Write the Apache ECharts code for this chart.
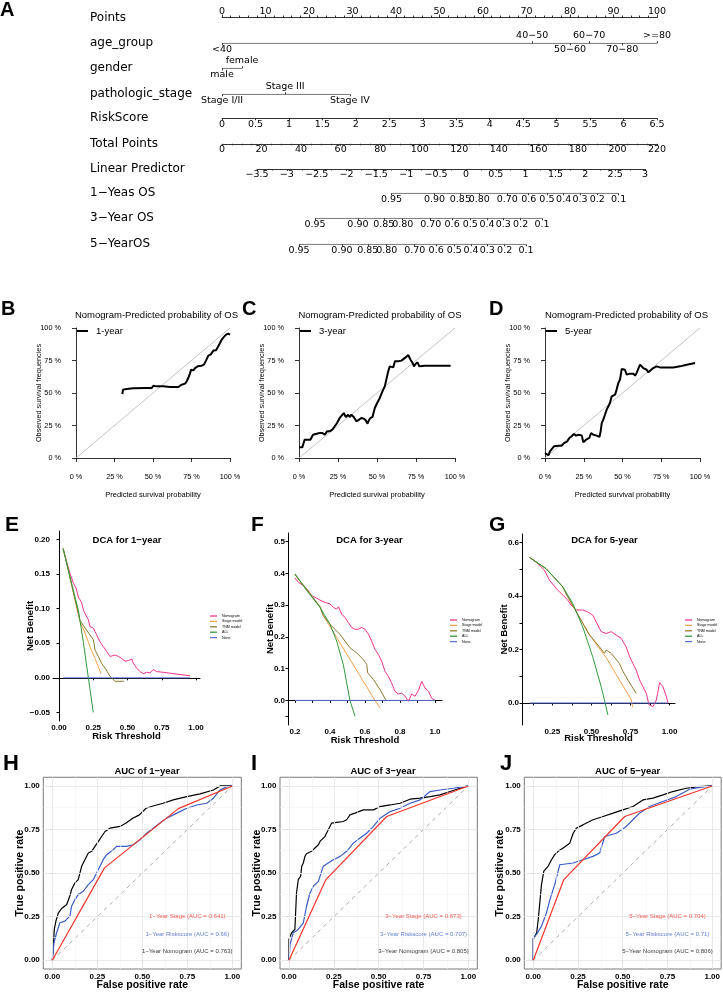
<!DOCTYPE html>
<html><head><meta charset="utf-8">
<script src="https://cdn.jsdelivr.net/npm/echarts@6/dist/echarts.min.js"></script>
<style>html,body{margin:0;padding:0;background:#fff}#c{width:723px;height:992px}</style>
</head><body><div id="c"></div>
<script>
// ================= DATA =================
// ---- Panel A: nomogram ----
const nomRowNames = ['Points','age_group','gender','pathologic_stage','RiskScore','Total Points','Linear Predictor','1−Yeas OS','3−Year OS','5−YearOS'];
const pointsRange = [0, 100];
const ageLevels = ['<40','40−50','50−60','60−70','70−80','>=80'];
const agePoints = [0, 71.3, 80.0, 84.4, 92.0, 100];
const genderLevels = ['male','female'];
const genderPoints = [0, 4.6];
const stageLevels = ['Stage I/II','Stage III','Stage IV'];
const stagePoints = [0, 14.5, 29.4];
const riskScoreRange = [0, 6.5];
const totalPointsRange = [0, 220];
const linearPredictorRange = [-3.5, 3];
const osTickLabels = ['0.95','0.90','0.85','0.80','0.70','0.6','0.5','0.4','0.3','0.2','0.1'];
const os1yLP = [-1.246,-0.526,-0.093,0.224,0.693,1.052,1.357,1.637,1.910,2.200,2.558];
const os3yLP = [-2.529,-1.809,-1.376,-1.059,-0.590,-0.231,0.074,0.354,0.627,0.917,1.275];
const os5yLP = [-2.797,-2.077,-1.644,-1.327,-0.858,-0.499,-0.194,0.086,0.359,0.649,1.007];

// ---- Panels B-D: calibration ----
const calTicks = [0, 0.25, 0.5, 0.75, 1];
const calDiagonal = [[0,0],[1,1]];
const cal1Year = [[0.301,0.492],[0.305,0.526],[0.329,0.531],[0.372,0.536],[0.459,0.538],[0.491,0.538],[0.502,0.556],[0.524,0.551],[0.567,0.551],[0.610,0.546],[0.665,0.546],[0.686,0.564],[0.708,0.572],[0.719,0.590],[0.729,0.615],[0.740,0.649],[0.747,0.679],[0.762,0.674],[0.773,0.692],[0.784,0.679],[0.790,0.705],[0.801,0.692],[0.816,0.710],[0.831,0.718],[0.844,0.749],[0.859,0.787],[0.874,0.795],[0.892,0.826],[0.909,0.828],[0.924,0.859],[0.935,0.885],[0.946,0.910],[0.961,0.931],[0.974,0.949],[0.989,0.956],[1.000,0.949]];
const cal3Year = [[0.0,0.082],[0.021,0.082],[0.036,0.141],[0.058,0.141],[0.073,0.141],[0.090,0.179],[0.107,0.185],[0.133,0.192],[0.150,0.192],[0.165,0.179],[0.180,0.205],[0.197,0.205],[0.214,0.218],[0.229,0.244],[0.244,0.269],[0.261,0.308],[0.272,0.321],[0.287,0.346],[0.300,0.315],[0.315,0.333],[0.325,0.315],[0.336,0.333],[0.351,0.315],[0.368,0.282],[0.385,0.295],[0.400,0.308],[0.415,0.303],[0.428,0.290],[0.439,0.264],[0.448,0.290],[0.458,0.308],[0.471,0.315],[0.486,0.385],[0.501,0.423],[0.518,0.462],[0.535,0.513],[0.550,0.551],[0.572,0.667],[0.582,0.705],[0.593,0.718],[0.604,0.697],[0.615,0.744],[0.625,0.749],[0.636,0.744],[0.647,0.736],[0.657,0.749],[0.668,0.762],[0.683,0.774],[0.700,0.792],[0.715,0.756],[0.728,0.731],[0.737,0.705],[0.747,0.723],[0.760,0.736],[0.771,0.705],[0.782,0.710],[0.807,0.710],[0.904,0.710],[0.972,0.710]];
const cal5Year = [[0.0,0.038],[0.006,0.026],[0.022,0.021],[0.032,0.051],[0.043,0.064],[0.058,0.090],[0.086,0.095],[0.108,0.095],[0.123,0.115],[0.144,0.128],[0.157,0.154],[0.172,0.167],[0.187,0.185],[0.200,0.172],[0.215,0.179],[0.237,0.174],[0.247,0.121],[0.265,0.141],[0.273,0.154],[0.286,0.154],[0.297,0.192],[0.312,0.179],[0.323,0.192],[0.333,0.172],[0.351,0.162],[0.359,0.205],[0.366,0.269],[0.376,0.295],[0.387,0.333],[0.398,0.372],[0.409,0.385],[0.419,0.423],[0.430,0.474],[0.452,0.487],[0.462,0.526],[0.473,0.577],[0.484,0.603],[0.495,0.685],[0.516,0.679],[0.527,0.641],[0.538,0.628],[0.548,0.649],[0.559,0.641],[0.570,0.649],[0.581,0.633],[0.591,0.654],[0.602,0.654],[0.613,0.718],[0.624,0.705],[0.634,0.692],[0.645,0.700],[0.656,0.679],[0.667,0.659],[0.677,0.674],[0.699,0.692],[0.720,0.705],[0.742,0.697],[0.828,0.697],[0.871,0.705],[0.914,0.718],[0.968,0.731]];

// ---- Panels E-G: decision curves ----
const dcaNames = ['Nomogram','Stage model','TNM model','ALL','None'];
const dca1Nomogram = [[0.03,0.187],[0.056,0.168],[0.080,0.151],[0.105,0.137],[0.124,0.130],[0.141,0.117],[0.153,0.113],[0.166,0.108],[0.178,0.098],[0.190,0.093],[0.202,0.091],[0.214,0.084],[0.226,0.074],[0.239,0.075],[0.251,0.072],[0.263,0.067],[0.275,0.062],[0.287,0.060],[0.299,0.052],[0.311,0.050],[0.324,0.045],[0.336,0.043],[0.348,0.038],[0.360,0.036],[0.372,0.031],[0.392,0.032],[0.409,0.033],[0.433,0.031],[0.457,0.028],[0.482,0.024],[0.506,0.025],[0.531,0.027],[0.543,0.021],[0.567,0.014],[0.591,0.009],[0.616,0.006],[0.640,0.008],[0.664,0.007],[0.688,0.012],[0.713,0.009],[0.761,0.008],[0.834,0.006],[0.956,0.003]];
const dca1Stage = [[0.03,0.187],[0.056,0.166],[0.117,0.113],[0.153,0.081],[0.190,0.065],[0.226,0.045],[0.263,0.028],[0.307,0.006]];
const dca1TNM = [[0.03,0.187],[0.056,0.166],[0.117,0.113],[0.153,0.083],[0.190,0.072],[0.226,0.062],[0.251,0.055],[0.263,0.040],[0.287,0.031],[0.311,0.021],[0.343,0.012],[0.372,0.002],[0.409,-0.005],[0.474,-0.005]];
const dca1All = [[0.03,0.187],[0.080,0.146],[0.141,0.098],[0.178,0.051],[0.214,0.0],[0.25,-0.05]];
const dca1None = [[0.03,0],[0.956,0]];

const dca3Nomogram = [[0.200,0.386],[0.219,0.372],[0.248,0.362],[0.276,0.346],[0.295,0.330],[0.314,0.325],[0.343,0.316],[0.371,0.309],[0.400,0.304],[0.419,0.293],[0.438,0.288],[0.448,0.295],[0.467,0.272],[0.486,0.261],[0.505,0.245],[0.524,0.230],[0.543,0.224],[0.562,0.224],[0.571,0.219],[0.581,0.230],[0.600,0.224],[0.619,0.209],[0.638,0.187],[0.657,0.161],[0.676,0.145],[0.695,0.124],[0.714,0.092],[0.733,0.076],[0.752,0.055],[0.771,0.029],[0.790,0.020],[0.810,0.023],[0.829,0.013],[0.848,-0.003],[0.867,0.020],[0.886,0.013],[0.905,0.031],[0.924,0.060],[0.943,0.039],[0.962,0.029],[0.981,0.007],[1.0,0.0]];
const dca3Stage = [[0.2,0.396],[0.267,0.350],[0.343,0.295],[0.362,0.267],[0.657,0.0],[0.686,-0.024]];
const dca3TNM = [[0.2,0.396],[0.267,0.350],[0.343,0.295],[0.362,0.267],[0.400,0.240],[0.457,0.208],[0.514,0.166],[0.552,0.150],[0.590,0.129],[0.610,0.113],[0.615,0.087],[0.648,0.066],[0.686,0.034],[0.720,0.0]];
const dca3All = [[0.2,0.399],[0.267,0.346],[0.343,0.293],[0.400,0.240],[0.438,0.187],[0.476,0.113],[0.514,0.0],[0.543,-0.05]];
const dca3None = [[0.2,0],[1.0,0]];

const dca5Nomogram = [[0.103,0.545],[0.156,0.522],[0.199,0.497],[0.231,0.460],[0.274,0.429],[0.316,0.404],[0.348,0.385],[0.370,0.366],[0.402,0.348],[0.444,0.348],[0.476,0.341],[0.508,0.329],[0.530,0.304],[0.562,0.267],[0.594,0.260],[0.626,0.267],[0.658,0.254],[0.690,0.242],[0.722,0.210],[0.744,0.173],[0.765,0.148],[0.786,0.123],[0.808,0.086],[0.829,0.061],[0.851,0.036],[0.868,-0.007],[0.893,-0.014],[0.915,0.011],[0.936,0.076],[0.957,0.061],[0.979,0.024],[0.99,0.0]];
const dca5Stage = [[0.103,0.545],[0.209,0.503],[0.316,0.435],[0.342,0.404],[0.487,0.255],[0.594,0.170],[0.679,0.086],[0.754,0.014],[0.763,-0.015]];
const dca5TNM = [[0.103,0.545],[0.209,0.503],[0.316,0.435],[0.342,0.404],[0.487,0.255],[0.551,0.210],[0.583,0.186],[0.594,0.198],[0.626,0.186],[0.679,0.148],[0.697,0.123],[0.733,0.086],[0.786,0.036]];
const dca5All = [[0.103,0.545],[0.209,0.503],[0.316,0.435],[0.380,0.373],[0.444,0.285],[0.508,0.173],[0.562,0.061],[0.583,0.011],[0.605,-0.045]];
const dca5None = [[0.103,0],[0.99,0]];

// ---- Panels H-J: ROC ----
const rocTicks = [0, 0.25, 0.5, 0.75, 1];
const rocMinor = [0.125, 0.375, 0.625, 0.875];
const rocDiagonal = [[0,0],[1,1]];
const roc1Nomogram = [[0,0],[0.006,0.08],[0.011,0.177],[0.02,0.225],[0.033,0.27],[0.052,0.297],[0.08,0.32],[0.098,0.37],[0.107,0.406],[0.126,0.444],[0.144,0.463],[0.163,0.539],[0.181,0.577],[0.2,0.615],[0.219,0.625],[0.237,0.653],[0.256,0.682],[0.274,0.71],[0.293,0.739],[0.32,0.758],[0.376,0.768],[0.41,0.787],[0.447,0.815],[0.484,0.834],[0.521,0.872],[0.559,0.885],[0.616,0.901],[0.672,0.92],[0.747,0.939],[0.821,0.955],[0.895,0.977],[0.932,1.0],[1,1]];
const roc1Riskscore = [[0,0],[0.009,0.10],[0.024,0.158],[0.042,0.215],[0.07,0.225],[0.098,0.253],[0.107,0.31],[0.126,0.348],[0.144,0.377],[0.172,0.396],[0.2,0.434],[0.228,0.463],[0.246,0.501],[0.265,0.539],[0.283,0.577],[0.302,0.606],[0.339,0.634],[0.357,0.653],[0.413,0.653],[0.45,0.663],[0.487,0.691],[0.524,0.729],[0.561,0.758],[0.598,0.787],[0.635,0.815],[0.672,0.834],[0.709,0.853],[0.747,0.872],[0.803,0.891],[0.858,0.901],[0.895,0.93],[0.932,0.977],[0.97,0.996],[1,1]];
const roc1Stage = [[0,0],[0.29,0.53],[0.70,0.87],[1,1]];
const roc3Nomogram = [[0,0],[0,0.12],[0.015,0.158],[0.033,0.177],[0.042,0.386],[0.052,0.463],[0.065,0.482],[0.071,0.539],[0.080,0.558],[0.089,0.596],[0.098,0.611],[0.126,0.625],[0.145,0.644],[0.164,0.663],[0.173,0.682],[0.201,0.711],[0.219,0.749],[0.238,0.787],[0.266,0.791],[0.303,0.796],[0.322,0.806],[0.34,0.834],[0.368,0.844],[0.415,0.863],[0.471,0.863],[0.508,0.882],[0.564,0.891],[0.619,0.901],[0.675,0.924],[0.731,0.93],[0.787,0.939],[0.842,0.949],[0.898,0.968],[0.954,0.987],[1,1]];
const roc3Riskscore = [[0,0],[0.006,0.091],[0.024,0.158],[0.052,0.177],[0.08,0.215],[0.098,0.31],[0.117,0.386],[0.136,0.425],[0.164,0.453],[0.191,0.539],[0.219,0.558],[0.247,0.577],[0.285,0.596],[0.322,0.625],[0.359,0.672],[0.396,0.701],[0.433,0.729],[0.471,0.768],[0.508,0.815],[0.564,0.853],[0.619,0.872],[0.675,0.901],[0.731,0.92],[0.787,0.968],[0.842,0.977],[0.917,0.987],[0.973,0.996],[1,1]];
const roc3Stage = [[0,0],[0.206,0.463],[0.545,0.825],[1,1]];
const roc5Nomogram = [[0,0],[0,0.12],[0.019,0.158],[0.028,0.234],[0.046,0.434],[0.059,0.511],[0.083,0.539],[0.102,0.577],[0.12,0.606],[0.139,0.625],[0.167,0.644],[0.204,0.672],[0.223,0.729],[0.241,0.758],[0.278,0.777],[0.334,0.806],[0.39,0.825],[0.446,0.844],[0.501,0.863],[0.557,0.882],[0.613,0.92],[0.669,0.93],[0.725,0.949],[0.78,0.968],[0.855,0.987],[0.929,0.996],[1,1]];
const roc5Riskscore = [[0,0],[0,0.13],[0.019,0.149],[0.046,0.196],[0.074,0.272],[0.093,0.348],[0.12,0.434],[0.148,0.548],[0.223,0.558],[0.278,0.577],[0.334,0.596],[0.371,0.615],[0.399,0.71],[0.464,0.729],[0.52,0.768],[0.557,0.806],[0.594,0.844],[0.65,0.882],[0.725,0.911],[0.799,0.939],[0.873,0.981],[0.929,0.992],[1,1]];
const roc5Stage = [[0,0],[0.171,0.463],[0.511,0.825],[1,1]];
const roc1Labels = ['1−Year Stage (AUC = 0.641)','1−Year Riskscore (AUC = 0.66)','1−Year Nomogram (AUC = 0.763)'];
const roc3Labels = ['3−Year Stage (AUC = 0.673)','3−Year Riskscore (AUC = 0.707)','3−Year Nomogram (AUC = 0.805)'];
const roc5Labels = ['5−Year Stage (AUC = 0.704)','5−Year Riskscore (AUC = 0.71)','5−Year Nomogram (AUC = 0.806)'];
const rocLabelPos = [[0.75,0.25],[0.75,0.15],[0.75,0.05]];

// ================= BUILD =================
const LF = "'Liberation Sans', Arial, sans-serif";
const NF = "'DejaVu Sans', sans-serif";
const grids=[], xAxis=[], yAxis=[], series=[], graphic=[], legend=[];
function grid(o){grids.push(o);return grids.length-1;}
function xa(o){xAxis.push(o);return xAxis.length-1;}
function ya(o){yAxis.push(o);return yAxis.length-1;}
function txt(x,y,text,o){graphic.push({type:'text',x:x,y:y,silent:true,style:Object.assign({text:text,fill:'#000',fontFamily:LF,fontSize:10,align:'left',verticalAlign:'middle'},o||{})});}
function nearest(arr,v){let b=0;for(let i=1;i<arr.length;i++){if(Math.abs(arr[i]-v)<Math.abs(arr[b]-v))b=i;}return b;}
const minus = s => String(s).replace('-','−');

// ---------- Panel A ----------
const NOM_L=222, NOM_W=435, LP_L=257, LP_W=388;
const rowY=[17.5,43.3,68.3,94.3,118.3,143.8,169,193.3,218.3,244.3];
nomRowNames.forEach((n,i)=>txt(90,rowY[i],n,{fontFamily:NF,fontSize:12}));
const nomLine={lineStyle:{color:'#333',width:1}};
const nomTick=len=>({length:len,lineStyle:{color:'#333',width:1}});
const nomLabel=(m,extra)=>Object.assign({margin:m,fontFamily:NF,fontSize:9.5,color:'#000'},extra||{});
function hiddenY(g){return ya({gridIndex:g,show:false,min:0,max:1});}

let g=grid({left:NOM_L,top:rowY[0],width:NOM_W,height:0});
xa({gridIndex:g,type:'value',position:'top',min:pointsRange[0],max:pointsRange[1],interval:10,axisLine:nomLine,axisTick:nomTick(3),minorTick:{show:true,splitNumber:5,length:2,lineStyle:{color:'#333'}},axisLabel:nomLabel(1),splitLine:{show:false}});
hiddenY(g);

function catRow(y,levels,pts){
  const gg=grid({left:NOM_L,top:y,width:NOM_W,height:0});
  const below=pts.filter((_,i)=>i%2===0), above=pts.filter((_,i)=>i%2===1);
  const fmt=v=>levels[nearest(pts,v)];
  const xb=xa({gridIndex:gg,type:'value',position:'bottom',min:pointsRange[0],max:pointsRange[1],axisLine:{show:false},axisTick:Object.assign(nomTick(2),{customValues:below}),axisLabel:nomLabel(1,{customValues:below,formatter:fmt}),splitLine:{show:false}});
  xa({gridIndex:gg,type:'value',position:'top',min:pointsRange[0],max:pointsRange[1],axisLine:{show:false},axisTick:Object.assign(nomTick(2),{customValues:above}),axisLabel:nomLabel(2.5,{customValues:above,formatter:fmt}),splitLine:{show:false}});
  const yi=hiddenY(gg);
  series.push({type:'line',xAxisIndex:xb,yAxisIndex:yi,data:[[pts[0],0],[pts[pts.length-1],0]],symbol:'none',silent:true,animation:false,lineStyle:{color:'#333',width:1}});
}
catRow(rowY[1],ageLevels,agePoints);
catRow(rowY[2],genderLevels,genderPoints);
catRow(rowY[3],stageLevels,stagePoints);

g=grid({left:NOM_L,top:rowY[4],width:NOM_W,height:0});
xa({gridIndex:g,type:'value',min:riskScoreRange[0],max:riskScoreRange[1],interval:0.5,axisLine:nomLine,axisTick:nomTick(2),axisLabel:nomLabel(1),splitLine:{show:false}});
hiddenY(g);
g=grid({left:NOM_L,top:rowY[5],width:NOM_W,height:0});
xa({gridIndex:g,type:'value',min:totalPointsRange[0],max:totalPointsRange[1],interval:20,axisLine:nomLine,axisTick:nomTick(2),minorTick:{show:true,splitNumber:4,length:1.5,lineStyle:{color:'#333'}},axisLabel:nomLabel(1),splitLine:{show:false}});
hiddenY(g);
g=grid({left:LP_L,top:rowY[6],width:LP_W,height:0});
xa({gridIndex:g,type:'value',min:linearPredictorRange[0],max:linearPredictorRange[1],interval:0.5,axisLine:nomLine,axisTick:nomTick(2),minorTick:{show:true,splitNumber:2,length:1.5,lineStyle:{color:'#333'}},axisLabel:nomLabel(1,{formatter:v=>minus(v)}),splitLine:{show:false}});
hiddenY(g);
function osRow(y,lp){
  const gg=grid({left:LP_L,top:y,width:LP_W,height:0});
  const xi=xa({gridIndex:gg,type:'value',min:linearPredictorRange[0],max:linearPredictorRange[1],axisLine:{show:false},axisTick:Object.assign(nomTick(2),{customValues:lp}),axisLabel:nomLabel(1,{customValues:lp,formatter:v=>osTickLabels[nearest(lp,v)]}),splitLine:{show:false}});
  const yi=hiddenY(gg);
  series.push({type:'line',xAxisIndex:xi,yAxisIndex:yi,data:[[lp[0],0],[lp[lp.length-1],0]],symbol:'none',silent:true,animation:false,lineStyle:{color:'#333',width:1}});
}
osRow(rowY[7],os1yLP);
osRow(rowY[8],os3yLP);
osRow(rowY[9],os5yLP);
txt(0,10,'A',{fontSize:20,fontWeight:'bold'});

// ---------- Panels B-D ----------
function calPanel(left,width,data,name,titleX){
  const gg=grid({left:left,top:328,width:width,height:130});
  const ax={axisLine:{lineStyle:{color:'#000',width:0.8}},axisTick:{length:4,lineStyle:{color:'#000',width:0.8}},splitLine:{show:false},nameMoveOverlap:false};
  const lab={margin:9,fontSize:7.3,fontFamily:LF,color:'#000',formatter:v=>Math.round(v*100)+' %'};
  const xi=xa(Object.assign({gridIndex:gg,type:'value',min:0,max:1,interval:0.25,offset:6,axisLabel:lab,
    name:'Predicted survival probability',nameLocation:'middle',nameGap:27,nameTextStyle:{fontSize:7.5,fontFamily:LF,color:'#000'}},ax));
  const yi=ya(Object.assign({gridIndex:gg,type:'value',min:0,max:1,interval:0.25,offset:6,axisLabel:lab,
    name:'Observed survival frequencies',nameLocation:'middle',nameGap:28,nameTextStyle:{fontSize:7.3,fontFamily:LF,color:'#000'}},ax));
  series.push({type:'line',xAxisIndex:xi,yAxisIndex:yi,data:calDiagonal,symbol:'none',silent:true,animation:false,lineStyle:{color:'#C4C4C4',width:1}});
  series.push({type:'line',name:name,color:'#000',xAxisIndex:xi,yAxisIndex:yi,data:data,symbol:'none',animation:false,lineStyle:{color:'#000',width:2}});
  legend.push({data:[name],left:left+1,top:326,orient:'vertical',padding:0,itemWidth:11,itemHeight:2,icon:'rect',selectedMode:false,textStyle:{fontSize:9.5,fontFamily:LF,color:'#000',padding:[0,0,0,3]}});
  txt(titleX,315,'Nomogram-Predicted probability of OS',{align:'center',fontSize:9.5});
}
calPanel(76,154,cal1Year,'1-year',156.5);
calPanel(299,156,cal3Year,'3-year',380);
calPanel(545,155,cal5Year,'5-year',626.5);
txt(1,309.5,'B',{fontSize:20,fontWeight:'bold'});
txt(242,309.5,'C',{fontSize:20,fontWeight:'bold'});
txt(489,309.5,'D',{fontSize:20,fontWeight:'bold'});

// ---------- Panels E-G ----------
const dcaColors={'Nomogram':'#F0338A','Stage model':'#F7A04A','TNM model':'#8B7A2E','ALL':'#2E9A3C','None':'#5C74DA'};
function dcaPanel(o){
  const gg=grid({left:o.left,top:o.top,width:o.width,height:o.height});
  const line={lineStyle:{color:'#000',width:1}};
  const lab={fontSize:8,fontWeight:'bold',fontFamily:LF,color:'#000'};
  const nm={fontSize:9.5,fontWeight:'bold',fontFamily:LF,color:'#000'};
  const xi=xa({gridIndex:gg,type:'value',min:o.xr[0],max:o.xr[1],axisLine:line,
    axisTick:{customValues:o.xTicks,length:2.5,lineStyle:{color:'#000',width:1}},
    axisLabel:Object.assign({customValues:o.xLabels,formatter:o.xFmt,margin:3},lab),
    splitLine:{show:false},name:'Risk Threshold',nameLocation:'middle',nameGap:o.xGap,nameMoveOverlap:false,nameTextStyle:nm});
  const yi=ya({gridIndex:gg,type:'value',min:o.yr[0],max:o.yr[1],axisLine:line,
    axisTick:{customValues:o.yTicks,length:2.5,lineStyle:{color:'#000',width:1}},
    axisLabel:Object.assign({customValues:o.yLabels,formatter:o.yFmt,margin:3},lab),
    splitLine:{show:false},name:'Net Benefit',nameLocation:'middle',nameGap:o.yGap,nameMoveOverlap:false,nameTextStyle:nm});
  dcaNames.forEach((n,i)=>{
    series.push({type:'line',name:n,color:dcaColors[n],xAxisIndex:xi,yAxisIndex:yi,data:o.data[i],symbol:'none',animation:false,lineStyle:{color:dcaColors[n],width:1}});
  });
  legend.push({data:dcaNames,left:o.legL,top:o.legT,orient:'vertical',padding:0,itemGap:1.4,itemWidth:7,itemHeight:1.3,icon:'rect',selectedMode:false,textStyle:{fontSize:3.6,lineHeight:4,fontFamily:LF,color:'#000'}});
  txt(o.titleX,540,o.title,{align:'center',fontSize:9.5,fontWeight:'bold'});
}
const f2=v=>(v<0?'−':'')+Math.abs(v).toFixed(2);
const f1=v=>(v<0?'−':'')+Math.abs(v).toFixed(1);
dcaPanel({left:53,top:531,width:147,height:190,xr:[-0.044,1.029],yr:[-0.0625,0.2125],
  xTicks:[0,0.25,0.5,0.75,1],xLabels:[0,0.25,0.5,0.75,1],xFmt:f2,
  yTicks:[-0.05,0,0.05,0.1,0.15,0.2],yLabels:[-0.05,0,0.05,0.1,0.15,0.2],yFmt:f2,
  xGap:10,yGap:18,data:[dca1Nomogram,dca1Stage,dca1TNM,dca1All,dca1None],legL:210,legT:614,titleX:127,title:'DCA for 1−year'});
dcaPanel({left:288,top:533,width:154,height:192,xr:[0.16,1.04],yr:[-0.0775,0.5275],
  xTicks:[0.2,0.3,0.4,0.5,0.6,0.7,0.8,0.9,1.0],xLabels:[0.2,0.4,0.6,0.8,1.0],xFmt:f1,
  yTicks:[-0.05,0,0.1,0.2,0.3,0.4,0.5],yLabels:[0,0.1,0.2,0.3,0.4,0.5],yFmt:f1,
  xGap:10,yGap:13,data:[dca3Nomogram,dca3Stage,dca3TNM,dca3All,dca3None],legL:450,legT:618,titleX:369.5,title:'DCA for 3-year'});
dcaPanel({left:522,top:534,width:153,height:191,xr:[0.0555,1.0345],yr:[-0.0825,0.6325],
  xTicks:[0.125,0.25,0.375,0.5,0.625,0.75,0.875,1.0],xLabels:[0.25,0.5,0.75,1.0],xFmt:f2,
  yTicks:[0,0.1,0.2,0.3,0.4,0.5,0.6],yLabels:[0,0.2,0.4,0.6],yFmt:f1,
  xGap:8.5,yGap:13,data:[dca5Nomogram,dca5Stage,dca5TNM,dca5All,dca5None],legL:685,legT:618,titleX:604.5,title:'DCA for 5-year'});
txt(5,525,'E',{fontSize:21,fontWeight:'bold'});
txt(251,525,'F',{fontSize:21,fontWeight:'bold'});
txt(489,525,'G',{fontSize:21,fontWeight:'bold'});

// ---------- Panels H-J ----------
function rocPanel(o){
  const gg=grid({left:o.left,top:777.25,width:o.width,height:192.5,show:true,borderColor:'#7a7a7a',borderWidth:1,backgroundColor:'transparent'});
  const lab={fontSize:8,fontWeight:'bold',fontFamily:LF,color:'#000',customValues:rocTicks,formatter:v=>v.toFixed(2),margin:3.5};
  const tick={customValues:rocTicks,length:2.5,lineStyle:{color:'#333',width:0.8}};
  const nm={fontSize:10.5,fontWeight:'bold',fontFamily:LF,color:'#000'};
  const xi=xa({gridIndex:gg,type:'value',min:-0.05,max:1.05,axisLine:{show:false},axisTick:tick,axisLabel:lab,splitLine:{show:false},name:'False positive rate',nameLocation:'middle',nameGap:11,nameMoveOverlap:false,nameTextStyle:nm});
  const yi=ya({gridIndex:gg,type:'value',min:-0.05,max:1.05,axisLine:{show:false},axisTick:tick,axisLabel:lab,splitLine:{show:false},name:'True positive rate',nameLocation:'middle',nameGap:o.yGap,nameMoveOverlap:false,nameTextStyle:nm});
  const ml=[];
  rocMinor.forEach(v=>{ml.push({xAxis:v,lineStyle:{color:'#F3F3F3',width:0.6,type:'solid'}});ml.push({yAxis:v,lineStyle:{color:'#F3F3F3',width:0.6,type:'solid'}});});
  rocTicks.forEach(v=>{ml.push({xAxis:v,lineStyle:{color:'#E6E6E6',width:0.9,type:'solid'}});ml.push({yAxis:v,lineStyle:{color:'#E6E6E6',width:0.9,type:'solid'}});});
  series.push({type:'line',xAxisIndex:xi,yAxisIndex:yi,data:rocDiagonal,symbol:'none',silent:true,animation:false,z:1,
    lineStyle:{color:'#ABABAB',width:1,type:[4,4]},
    markLine:{silent:true,symbol:'none',label:{show:false},animation:false,data:ml}});
  const cols=['#F2352A','#3A5BC8','#000'];
  [o.stage,o.risk,o.nom].forEach((d,i)=>{
    series.push({type:'line',xAxisIndex:xi,yAxisIndex:yi,data:d,symbol:'none',animation:false,z:3+(i===0?2:(i===1?1:0)),lineStyle:{color:cols[i],width:1.2}});
  });
  series.push({type:'scatter',xAxisIndex:xi,yAxisIndex:yi,symbolSize:0,animation:false,silent:true,z:6,
    data:o.labels.map((t,i)=>({value:rocLabelPos[i],label:{show:true,position:'inside',formatter:t,color:cols[i],fontSize:6,fontFamily:LF}}))});
  txt(o.titleX,771,o.title,{align:'center',fontSize:9.5,fontWeight:'bold'});
}
rocPanel({left:43.3,width:198,yGap:18,stage:roc1Stage,risk:roc1Riskscore,nom:roc1Nomogram,labels:roc1Labels,titleX:147,title:'AUC of 1−year'});
rocPanel({left:280,width:197.3,yGap:17,stage:roc3Stage,risk:roc3Riskscore,nom:roc3Nomogram,labels:roc3Labels,titleX:383,title:'AUC of 3−year'});
rocPanel({left:524.3,width:197.3,yGap:19,stage:roc5Stage,risk:roc5Riskscore,nom:roc5Nomogram,labels:roc5Labels,titleX:627.7,title:'AUC of 5−year'});
txt(3,763.5,'H',{fontSize:22,fontWeight:'bold'});
txt(251,763.5,'I',{fontSize:22,fontWeight:'bold'});
txt(500,763.5,'J',{fontSize:22,fontWeight:'bold'});

const chart=echarts.init(document.getElementById('c'),null,{renderer:'canvas',width:723,height:992});
chart.setOption({animation:false,backgroundColor:'#fff',textStyle:{fontFamily:LF},grid:grids,xAxis:xAxis,yAxis:yAxis,series:series,legend:legend,graphic:graphic});
</script></body></html>
